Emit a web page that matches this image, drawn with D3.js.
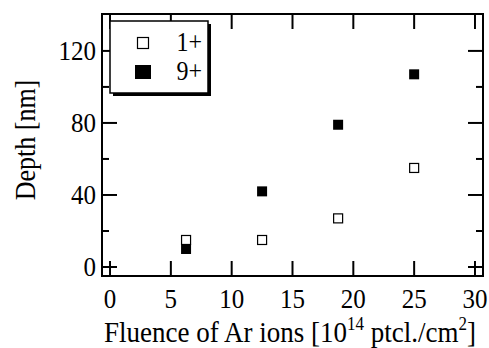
<!DOCTYPE html>
<html>
<head>
<meta charset="utf-8">
<script src="https://cdn.jsdelivr.net/npm/d3@7"></script>
<style>
  body { margin: 0; background: #fff; }
  text { font-family: "Liberation Serif", "Times New Roman", serif; fill: #000; }
</style>
</head>
<body>
<svg id="chart" width="489" height="348"></svg>
<script>
// Data.
const fluence = [6.25, 12.5, 18.75, 25];
const depth1 = [15, 15, 27, 55];   // 1+ ions
const depth9 = [10, 42, 79, 107];  // 9+ ions
const xTicks = [0, 5, 10, 15, 20, 25, 30];
const yMajor = [0, 40, 80, 120];
const yMinor = [20, 60, 100];
const seriesNames = ['1+', '9+'];

const svg = d3.select('#chart');
const frame = { left: 102, top: 14, right: 483, bottom: 276 };
const STRETCH = 1.1; // glyphs in the original are a bit taller than wide

const x = d3.scaleLinear().domain([-0.66, 30.66]).range([frame.left, frame.right]);
const y = d3.scaleLinear().domain([-5, 140.5]).range([frame.bottom, frame.top]);

const MAJ = 15, MIN = 7;

// Ticks: all drawn inward on both sides.
const ticks = svg.append('g').attr('stroke', '#000').attr('stroke-width', 2);
xTicks.forEach((t) => {
  ticks.append('line').attr('x1', x(t)).attr('x2', x(t))
    .attr('y1', frame.bottom).attr('y2', frame.bottom - MAJ);
  ticks.append('line').attr('x1', x(t)).attr('x2', x(t))
    .attr('y1', frame.top).attr('y2', frame.top + MAJ);
});
yMajor.concat(yMinor).forEach((t) => {
  const len = yMajor.includes(t) ? MAJ : MIN;
  ticks.append('line').attr('x1', frame.left).attr('x2', frame.left + len)
    .attr('y1', y(t)).attr('y2', y(t));
  ticks.append('line').attr('x1', frame.right).attr('x2', frame.right - len)
    .attr('y1', y(t)).attr('y2', y(t));
});

// Frame
svg.append('rect')
  .attr('x', frame.left).attr('y', frame.top)
  .attr('width', frame.right - frame.left).attr('height', frame.bottom - frame.top)
  .attr('fill', 'none').attr('stroke', '#000').attr('stroke-width', 2);

// Tick labels
svg.append('g').selectAll('text').data(xTicks).join('text')
  .attr('transform', (d) => `translate(${x(d)},308) scale(1,${STRETCH})`)
  .attr('text-anchor', 'middle').style('font-size', '25px')
  .text((d) => d);
svg.append('g').selectAll('text').data(yMajor).join('text')
  .attr('transform', (d) => `translate(96,${y(d) + 9}) scale(1,${STRETCH})`)
  .attr('text-anchor', 'end').style('font-size', '25px')
  .text((d) => d);

// Axis titles
const xt = svg.append('text')
  .attr('transform', `translate(290,342) scale(1,${STRETCH})`)
  .attr('text-anchor', 'middle').style('font-size', '27px');
xt.append('tspan').text('Fluence of Ar ions [10');
xt.append('tspan').attr('dy', -11).style('font-size', '17px').text('14');
xt.append('tspan').attr('dy', 11).text(' ptcl./cm');
xt.append('tspan').attr('dy', -11).style('font-size', '17px').text('2');
xt.append('tspan').attr('dy', 11).text(']');

svg.append('text')
  .attr('transform', `translate(35,140) rotate(-90) scale(1,${STRETCH})`)
  .attr('text-anchor', 'middle').style('font-size', '26px')
  .text('Depth [nm]');

// Points
const S1 = 9, S9 = 10;
svg.append('g').selectAll('rect').data(fluence).join('rect')
  .attr('x', (d) => x(d) - S1 / 2).attr('y', (d, i) => y(depth1[i]) - S1 / 2)
  .attr('width', S1).attr('height', S1)
  .attr('fill', '#fff').attr('stroke', '#000').attr('stroke-width', 1.2);
svg.append('g').selectAll('rect').data(fluence).join('rect')
  .attr('x', (d) => x(d) - S9 / 2).attr('y', (d, i) => y(depth9[i]) - S9 / 2)
  .attr('width', S9).attr('height', S9)
  .attr('fill', '#000');

// Legend with drop shadow
const lg = svg.append('g');
lg.append('rect').attr('x', 113).attr('y', 24).attr('width', 98).attr('height', 72).attr('fill', '#000');
lg.append('rect').attr('x', 110).attr('y', 21).attr('width', 98).attr('height', 72)
  .attr('fill', '#fff').attr('stroke', '#000').attr('stroke-width', 1.5);
seriesNames.forEach((name, i) => {
  const cy = 43 + i * 29;
  if (i === 0) {
    lg.append('rect').attr('x', 143 - S1 / 2 - 1).attr('y', cy - S1 / 2 - 1)
      .attr('width', S1 + 2).attr('height', S1 + 2)
      .attr('fill', '#fff').attr('stroke', '#000').attr('stroke-width', 1.2);
  } else {
    lg.append('rect').attr('x', 143 - 8).attr('y', cy - 7)
      .attr('width', 16).attr('height', 14).attr('fill', '#000');
  }
  lg.append('text')
    .attr('transform', `translate(202,${cy + 8}) scale(1,${STRETCH})`)
    .attr('text-anchor', 'end').style('font-size', '24px').text(name);
});
</script>
</body>
</html>
